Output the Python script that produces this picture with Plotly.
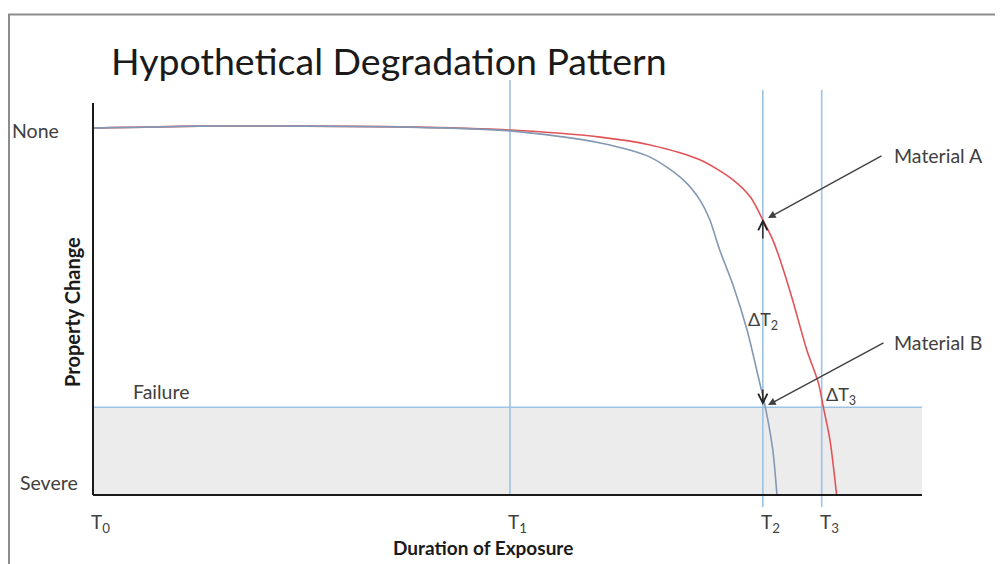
import plotly.graph_objects as go

# ---------------- data ----------------
# x: duration of exposure (0..100 arbitrary units), y: property level (0 = severe .. 100 top of axis)
t_names = ["T<sub>0</sub>", "T<sub>1</sub>", "T<sub>2</sub>", "T<sub>3</sub>"]
t_values = [0.0, 50.3, 80.8, 87.9]

level_none = 93.6
level_severe = 3.0
level_failure = 22.4

matA_x = [0.0, 12.9, 25.0, 37.0, 50.3, 61.2, 67.2, 73.2, 77.2, 79.3, 80.8, 82.0, 82.9, 84.4, 86.1, 87.5, 88.1, 88.9, 89.7]
matA_y = [93.6, 94.1, 94.1, 93.9, 93.1, 91.3, 89.3, 85.5, 80.4, 76.0, 70.2, 65.1, 59.9, 49.7, 37.0, 28.6, 22.4, 14.0, 0.0]

matB_x = [0.0, 12.9, 25.0, 37.0, 50.3, 61.2, 67.2, 71.2, 73.2, 74.4, 75.6, 77.2, 78.9, 80.2, 81.1, 82.0, 82.5]
matB_y = [93.6, 94.1, 94.1, 93.9, 92.9, 89.8, 86.2, 80.4, 75.3, 70.2, 62.5, 53.6, 42.1, 30.6, 22.4, 11.5, 0.0]

# ---------------- layout helpers ----------------
OFF = 8                        # page body margin of the browser
W, H = 1003 - OFF, 564 - OFF
SX, SY = 8.29, 3.92            # pixels per data unit


def dx(px):  # reference pixel x -> data x
    return (px - 93) / SX


def dy(py):  # reference pixel y -> data y
    return (495 - py) / SY


xr = [dx(OFF), dx(OFF + W)]
yr = [dy(OFF + H), dy(OFF)]

LBL = "#404040"
VBLUE = "#9dc3e6"
FONT = "Lato"
FS = 19.5

fig = go.Figure()

# curves
fig.add_trace(go.Scatter(x=matA_x, y=matA_y, mode="lines",
                         line=dict(color="#e05458", width=1.6, shape="spline", smoothing=0.8),
                         name="Material A", hoverinfo="skip"))
fig.add_trace(go.Scatter(x=matB_x, y=matB_y, mode="lines",
                         line=dict(color="#8398b3", width=1.6, shape="spline", smoothing=0.8),
                         name="Material B", hoverinfo="skip"))

shapes = []
# failure region
shapes.append(dict(type="rect", xref="x", yref="y", x0=0, x1=100, y0=0, y1=level_failure,
                   fillcolor="#ececec", line=dict(width=0), layer="below"))
shapes.append(dict(type="line", xref="x", yref="y", x0=0, x1=100, y0=level_failure, y1=level_failure,
                   line=dict(color=VBLUE, width=1.5), layer="below"))
# vertical time markers
tops = [None, dy(80), dy(90), dy(90)]
bots = [None, 0.0, dy(507), dy(507)]
for tv, tp, bt in zip(t_values, tops, bots):
    if tp is None:
        continue
    shapes.append(dict(type="line", xref="x", yref="y", x0=tv, x1=tv, y0=bt, y1=tp,
                       line=dict(color=VBLUE, width=1.6), layer="below"))
# axes lines
shapes.append(dict(type="line", xref="x", yref="y", x0=0, x1=0, y0=0, y1=100, line=dict(color="#1a1a1a", width=2)))
shapes.append(dict(type="line", xref="x", yref="y", x0=0, x1=100, y0=0, y1=0, line=dict(color="#1a1a1a", width=2)))
# frame border
shapes.append(dict(type="line", xref="x", yref="y", x0=dx(8), x1=dx(1003), y0=dy(14.5), y1=dy(14.5),
                   line=dict(color="#8c8c8c", width=2)))
shapes.append(dict(type="line", xref="x", yref="y", x0=dx(9), x1=dx(9), y0=dy(564), y1=dy(14.5),
                   line=dict(color="#8c8c8c", width=2)))

ann = []


def txt(x, y, s, size=FS, xanchor="center", bold=False, color=LBL, angle=0):
    ann.append(dict(x=x, y=y, xref="x", yref="y", text=("<b>%s</b>" % s) if bold else s, showarrow=False,
                    xanchor=xanchor, yanchor="middle", textangle=angle,
                    font=dict(family=FONT, size=size, color=color)))


# title
ann.append(dict(x=dx(109), y=dy(60), xref="x", yref="y", text="Hypothetical Degradation Pattern",
                showarrow=False, xanchor="left", yanchor="middle",
                font=dict(family=FONT, size=37.5, color="#1a1a1a")))
# y-level labels
txt(dx(61), dy(130), "None", xanchor="right")
txt(dx(80), dy(482), "Severe", xanchor="right")
txt(dx(131), dy(391), "Failure", xanchor="left")
txt(dx(72), dy(312), "Property Change", size=20, bold=True, angle=-90, color="#1a1a1a")
# time labels
for tv, tn in zip(t_values, t_names):
    txt(tv + 0.9, dy(523), tn, size=19)
txt(dx(483), dy(547), "Duration of Exposure", size=19, bold=True, color="#1a1a1a")
# material labels with arrows
txt(dx(892), dy(155), "Material A", xanchor="left")
txt(dx(892), dy(342), "Material B", xanchor="left")
for hx, hy, tx, ty in [(dx(768), dy(218), dx(883), dy(155)), (dx(768), dy(405), dx(885), dy(342))]:
    ann.append(dict(x=hx, y=hy, ax=tx, ay=ty, xref="x", yref="y", axref="x", ayref="y", text="",
                    showarrow=True, arrowhead=2, arrowsize=1.1, arrowwidth=1.4, arrowcolor="#404040"))
# delta T markers
txt(t_values[2], dy(320), "ΔT<sub>2</sub>", size=18)
txt(dx(841), dy(395), "ΔT<sub>3</sub>", size=18)
for hy, ty in [(dy(219), dy(240)), (dy(405), dy(388))]:
    ann.append(dict(x=t_values[2], y=hy, ax=t_values[2], ay=ty, xref="x", yref="y", axref="x", ayref="y", text="",
                    showarrow=True, arrowhead=5, arrowsize=1.3, arrowwidth=1.4, arrowcolor="#222222"))

fig.update_layout(
    width=W, height=H, margin=dict(l=0, r=0, t=0, b=0),
    paper_bgcolor="white", plot_bgcolor="white", showlegend=False,
    xaxis=dict(range=xr, visible=False, fixedrange=True),
    yaxis=dict(range=yr, visible=False, fixedrange=True),
    shapes=shapes, annotations=ann,
)
fig.write_html("out.html")
